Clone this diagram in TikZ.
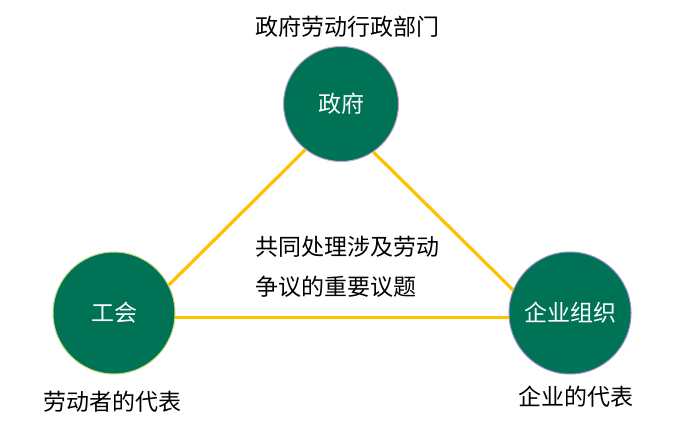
\documentclass[tikz,border=0pt]{standalone}
\usepackage{fontspec}
\newfontfamily\cjk{Noto Sans CJK SC}
\definecolor{circfill}{RGB}{0,115,86}
\definecolor{linegold}{RGB}{255,192,0}
\definecolor{edgepink}{RGB}{200,160,210}
\definecolor{edgeyellow}{RGB}{200,220,120}
\definecolor{edgeblue}{RGB}{150,140,200}
\begin{document}
\begin{tikzpicture}[x=1pt,y=-1pt,
  party/.style={circle,fill=circfill,line width=1pt,inner sep=0pt,text=white,font=\cjk\fontsize{23}{23}\selectfont},
  label/.style={inner sep=0pt,font=\cjk\fontsize{23}{23}\selectfont},
  tie/.style={linegold,line width=3.2pt}]
\useasboundingbox (0,0) rectangle (676,428);
\node[party,draw=edgepink,minimum size=115pt] (T) at (341,104) {政府};
\node[party,draw=edgeyellow,minimum size=122pt] (L) at (114,313) {工会};
\node[party,draw=edgeblue,minimum size=122pt] (R) at (570,313) {企业组织};
\begin{scope}[on background layer/.try]
\end{scope}
\draw[tie] (L.27) -- (T.232);
\draw[tie] (T.-56) -- (R.158);
\draw[tie] (L.-4) -- (R.184);
\node[label] (tt) at (347,27) {政府劳动行政部门};
\node[label] (lt) at (112,402) {劳动者的代表};
\node[label] (rt) at (576,397) {企业的代表};
\node[label,anchor=west] (c1) at (255,247) {共同处理涉及劳动};
\node[label,anchor=west] (c2) at (255,287) {争议的重要议题};
\end{tikzpicture}
\end{document}
